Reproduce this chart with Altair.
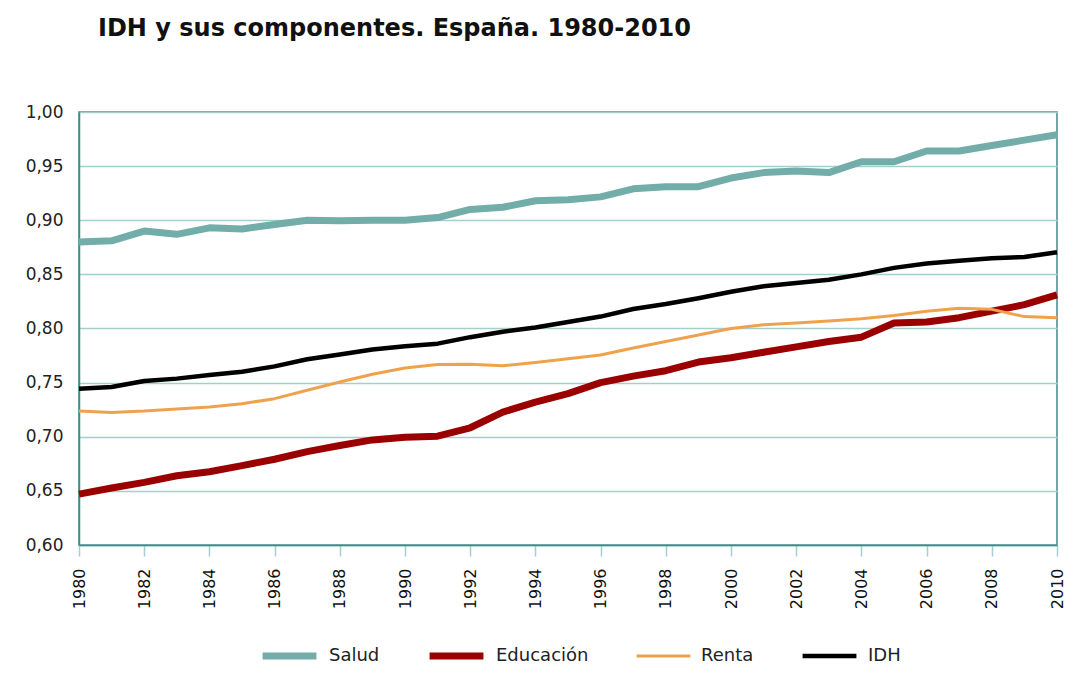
import altair as alt
import pandas as pd

years = list(range(1980, 2011))
salud = [0.880, 0.881, 0.890, 0.887, 0.893, 0.892, 0.896, 0.900, 0.8995, 0.900,
         0.900, 0.9025, 0.910, 0.912, 0.918, 0.919, 0.9216, 0.929, 0.931, 0.931,
         0.939, 0.944, 0.9456, 0.944, 0.954, 0.954, 0.964, 0.964, 0.969, 0.974, 0.979]
educacion = [0.647, 0.6526, 0.6579, 0.664, 0.6677, 0.6733, 0.6792, 0.6863, 0.6919, 0.6971,
             0.6996, 0.7005, 0.7083, 0.7228, 0.732, 0.7398, 0.750, 0.756, 0.761, 0.769,
             0.773, 0.778, 0.783, 0.788, 0.792, 0.805, 0.806, 0.810, 0.816, 0.822, 0.831]
renta = [0.7237, 0.7225, 0.7237, 0.7256, 0.7274, 0.7305, 0.7352, 0.743, 0.7506, 0.7577,
         0.7636, 0.7667, 0.767, 0.7655, 0.7686, 0.772, 0.7755, 0.782, 0.788, 0.794,
         0.800, 0.8035, 0.805, 0.807, 0.809, 0.812, 0.816, 0.8186, 0.8177, 0.811, 0.810]
idh = [0.7444, 0.746, 0.7515, 0.7537, 0.757, 0.760, 0.765, 0.7716, 0.776, 0.7806,
       0.7837, 0.786, 0.792, 0.797, 0.801, 0.806, 0.811, 0.818, 0.8226, 0.828,
       0.834, 0.839, 0.842, 0.845, 0.850, 0.856, 0.860, 0.8625, 0.865, 0.866, 0.8705]

series = ["Salud", "Educación", "Renta", "IDH"]
colors = ["#72ADA9", "#9B0000", "#EFA24E", "#000000"]
widths = [7, 7, 3, 4.5]

rows = []
for name, vals in zip(series, [salud, educacion, renta, idh]):
    for y, v in zip(years, vals):
        rows.append({"anio": y, "valor": v, "serie": name})
df = pd.DataFrame(rows)

FONT = "DejaVu Sans"
TEAL_DARK = "#3E8C88"
TEAL_GRID = "#A3CFCC"

legend_cfg = dict(title=None, orient="none", direction="horizontal",
                  legendX=180, legendY=534, symbolType="stroke",
                  symbolSize=2900, labelFontSize=18, labelFont=FONT,
                  labelColor="#222222", labelBaseline="middle", clipHeight=20,
                  columnPadding=46, labelOffset=9)

chart = alt.Chart(df).mark_line(strokeJoin="round").encode(
    x=alt.X("anio:Q", scale=alt.Scale(domain=[1980, 2010], nice=False, zero=False),
            axis=alt.Axis(values=list(range(1980, 2011, 2)), format="d", title=None,
                          labelAngle=-90, labelAlign="right", labelBaseline="middle",
                          labelFontSize=16, labelPadding=12, tickSize=11,
                          tickColor=TEAL_GRID, tickWidth=1.5, domainColor=TEAL_DARK,
                          domainWidth=1.5, grid=False, labelColor="#111111",
                          labelFont=FONT)),
    y=alt.Y("valor:Q", scale=alt.Scale(domain=[0.6, 1.0], nice=False, zero=False),
            axis=alt.Axis(values=[0.60, 0.65, 0.70, 0.75, 0.80, 0.85, 0.90, 0.95, 1.00],
                          labelExpr="replace(format(datum.value, '.2f'), '.', ',')",
                          title=None, tickSize=0, labelPadding=16, labelFontSize=17,
                          gridColor=TEAL_GRID, gridWidth=1.5, domainColor=TEAL_DARK,
                          domainWidth=1.5, labelColor="#222222", labelFont=FONT)),
    color=alt.Color("serie:N", sort=series,
                    scale=alt.Scale(domain=series, range=colors),
                    legend=alt.Legend(**legend_cfg)),
    strokeWidth=alt.StrokeWidth("serie:N", sort=series,
                                scale=alt.Scale(type="ordinal", domain=series, range=widths),
                                legend=alt.Legend(**legend_cfg)),
    order=alt.Order("anio:Q"),
).properties(
    width=978, height=433,
    title=alt.TitleParams("IDH y sus componentes. España. 1980-2010", anchor="start",
                          frame="group", font=FONT, fontSize=24, fontWeight="bold",
                          color="#111111", offset=62, dx=19),
    autosize=alt.AutoSizeParams(type="none"),
    padding={"left": 71, "top": 104, "right": 8, "bottom": 122},
).configure_view(stroke=TEAL_DARK, strokeWidth=1.5)

chart.save("out.html", embed_options={"renderer": "svg", "actions": False})
